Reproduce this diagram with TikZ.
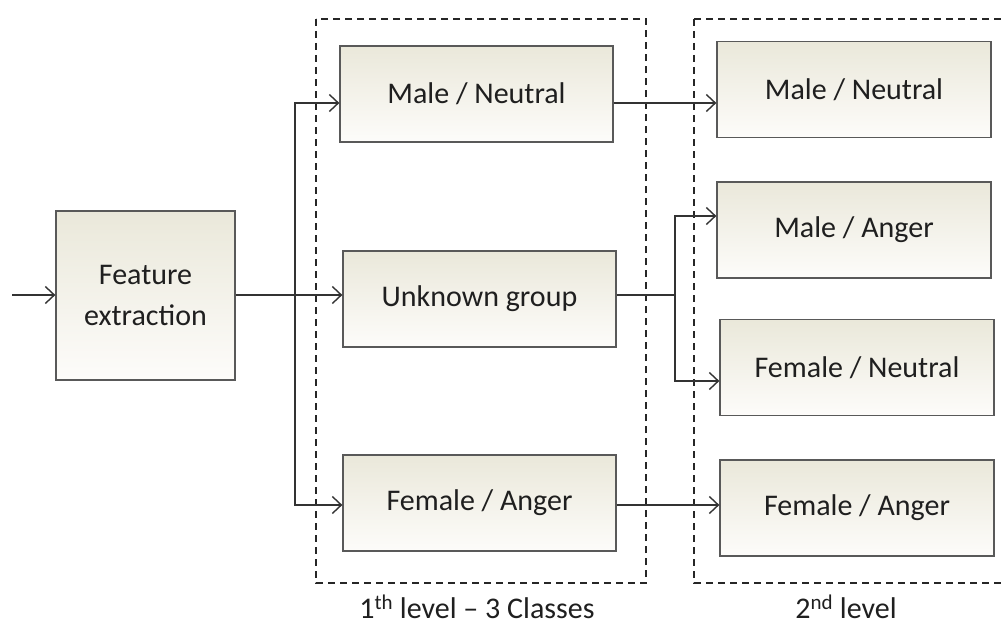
\documentclass[tikz,border=0pt]{standalone}
\usepackage{fontspec}
\setmainfont{Carlito}
\usetikzlibrary{arrows.meta}
\begin{document}
\begin{tikzpicture}[x=1pt,y=-1pt,
  blk/.style={draw=black!65, line width=1.3pt, top color=boxtop, bottom color=boxbot,
    inner sep=0pt, font=\fontsize{30}{41}\selectfont, text=black!88, align=center},
  conn/.style={line width=1.4pt, draw=black!80},
  arr/.style={conn, -{Straight Barb[length=9pt,width=17pt,line width=1.4pt]}},
  grp/.style={draw=black!85, line width=1.6pt, dash pattern=on 7pt off 5pt},
  lbl/.style={font=\fontsize{30}{36}\selectfont, text=black!88}]
\definecolor{boxtop}{HTML}{EAE8DA}
\definecolor{boxbot}{HTML}{FDFCFA}
\useasboundingbox (0,0) rectangle (1006,626);
\fill[white] (0,0) rectangle (1006,626);
% groups
\draw[grp] (316,19) rectangle (646,583);
\draw[grp] (694,19) -- (1012,19) (694,19) -- (694,583) -- (1012,583);
% blocks
\node[blk, minimum width=179pt, minimum height=169pt] (fe) at (145.5,295.5) {Feature\\extraction};
\node[blk, minimum width=273pt, minimum height=96pt] (mn1) at (476.5,94) {Male / Neutral};
\node[blk, minimum width=273pt, minimum height=96pt] (ug) at (479.5,299) {Unknown group};
\node[blk, minimum width=273pt, minimum height=96pt] (fa1) at (479.5,503) {Female / Anger};
\node[blk, minimum width=274pt, minimum height=96pt] (mn2) at (854,89.5) {Male / Neutral};
\node[blk, minimum width=274pt, minimum height=96pt] (ma2) at (854,230) {Male / Anger};
\node[blk, minimum width=274pt, minimum height=96pt] (fn2) at (857,367.5) {Female / Neutral};
\node[blk, minimum width=274pt, minimum height=96pt] (fa2) at (857,508) {Female / Anger};
% connectors
\coordinate (in) at (12,295);
\coordinate (b1) at (295,295);
\coordinate (b2) at (675,295);
\draw[arr] (in) -- (fe.west |- in);
\draw[conn] (fe.east |- b1) -- (b1);
\draw[arr] (b1) -- (ug.west |- b1);
\draw[arr] (b1) |- (mn1.west |- 0,103);
\draw[arr] (b1) |- (fa1.west |- 0,505);
\draw[arr] (mn1.east |- 0,103) -- (mn2.west |- 0,103);
\draw[arr] (fa1.east |- 0,505) -- (fa2.west |- 0,505);
\draw[conn] (ug.east |- b2) -- (b2);
\draw[arr] (b2) |- (ma2.west |- 0,216);
\draw[arr] (b2) |- (fn2.west |- 0,381);
% labels
\node[lbl] (l1) at (477,607) {1\textsuperscript{th} level – 3 Classes};
\node[lbl] (l2) at (846,607) {2\textsuperscript{nd} level};
\end{tikzpicture}
\end{document}
